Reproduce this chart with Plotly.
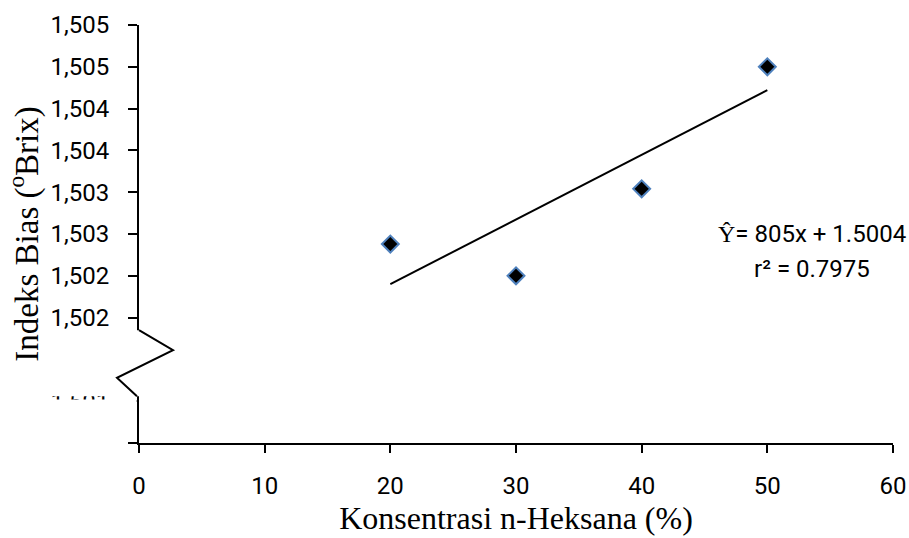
import plotly.graph_objects as go

# Data
konsentrasi = [20, 30, 40, 50]
indeks_bias = [1.50238, 1.50200, 1.50304, 1.50450]

# Trendline end points as drawn in the reference
trend_x = [20, 50]
trend_y = [1.50190, 1.50422]

x_ticks = [0, 10, 20, 30, 40, 50, 60]
y_tickvals = [1.5000, 1.5005, 1.5010, 1.5015, 1.5020, 1.5025, 1.5030, 1.5035, 1.5040, 1.5045, 1.5050]
y_ticktext = [" ", "1,501", " ", "1,502", "1,502", "1,503", "1,503", "1,504", "1,504", "1,505", "1,505"]

eq_text = "<span style='font-family:Liberation Serif'>Ŷ</span>= 805x + 1.5004"
r2_text = "r² = 0.7975"

fig = go.Figure()
fig.add_trace(go.Scatter(x=trend_x, y=trend_y, mode="lines",
                         line=dict(color="black", width=2), showlegend=False,
                         hoverinfo="skip"))
fig.add_trace(go.Scatter(x=konsentrasi, y=indeks_bias, mode="markers",
                         marker=dict(symbol="diamond", size=13, color="black",
                                     line=dict(color="#4f81bd", width=2)),
                         showlegend=False))

tick_font = dict(family="Roboto, Liberation Sans, Arial", size=24, color="black")
x_title_font = dict(family="Liberation Serif, Times New Roman, serif", size=32, color="black")
y_title_font = dict(family="Liberation Serif, Times New Roman, serif", size=33, color="black")

fig.update_xaxes(range=[0, 60], tickvals=x_ticks, showgrid=False, zeroline=False,
                 showline=True, linecolor="black", linewidth=2,
                 ticks="outside", ticklen=8, tickwidth=2, tickcolor="black",
                 tickfont=tick_font, ticklabelstandoff=12,
                 title=dict(text="Konsentrasi n-Heksana (%)", font=x_title_font, standoff=7))
fig.update_yaxes(range=[1.5000, 1.5050], tickvals=y_tickvals, ticktext=y_ticktext,
                 showgrid=False, zeroline=False,
                 showline=True, linecolor="black", linewidth=2,
                 ticks="outside", ticklen=9, tickwidth=2, tickcolor="black",
                 tickfont=tick_font, ticklabelstandoff=14,
                 title=dict(text="Indeks Bias (<sup>o</sup>Brix)", font=y_title_font, standoff=2))

# Axis-break decoration: white gap over the axis and labels, then a zigzag
fig.add_shape(type="rect", xref="paper", yref="y", x0=-0.13, x1=0.003,
              y0=1.50056, y1=1.50135, fillcolor="white", line=dict(width=0), layer="above")
fig.add_shape(type="rect", xref="paper", yref="y", x0=-0.13, x1=-0.003,
              y0=1.50003, y1=1.50052, fillcolor="white", line=dict(width=0), layer="above")
fig.add_shape(type="path", xref="paper", yref="y",
              path="M 0,1.50135 L 0.0451,1.50111 L -0.0292,1.50078 L -0.0027,1.50056",
              line=dict(color="black", width=2), layer="above")

ann_font = dict(family="Roboto, Liberation Sans, Arial", size=24, color="black")
fig.add_annotation(xref="paper", yref="paper", x=0.892, y=0.5, text=eq_text,
                   showarrow=False, xanchor="center", yanchor="middle", font=ann_font)
fig.add_annotation(xref="paper", yref="paper", x=0.892, y=0.417, text=r2_text,
                   showarrow=False, xanchor="center", yanchor="middle", font=ann_font)

fig.update_layout(width=909, height=538,
                  margin=dict(l=139, r=16, t=25, b=95, autoexpand=False),
                  plot_bgcolor="white", paper_bgcolor="white")

fig.write_html("out.html")
